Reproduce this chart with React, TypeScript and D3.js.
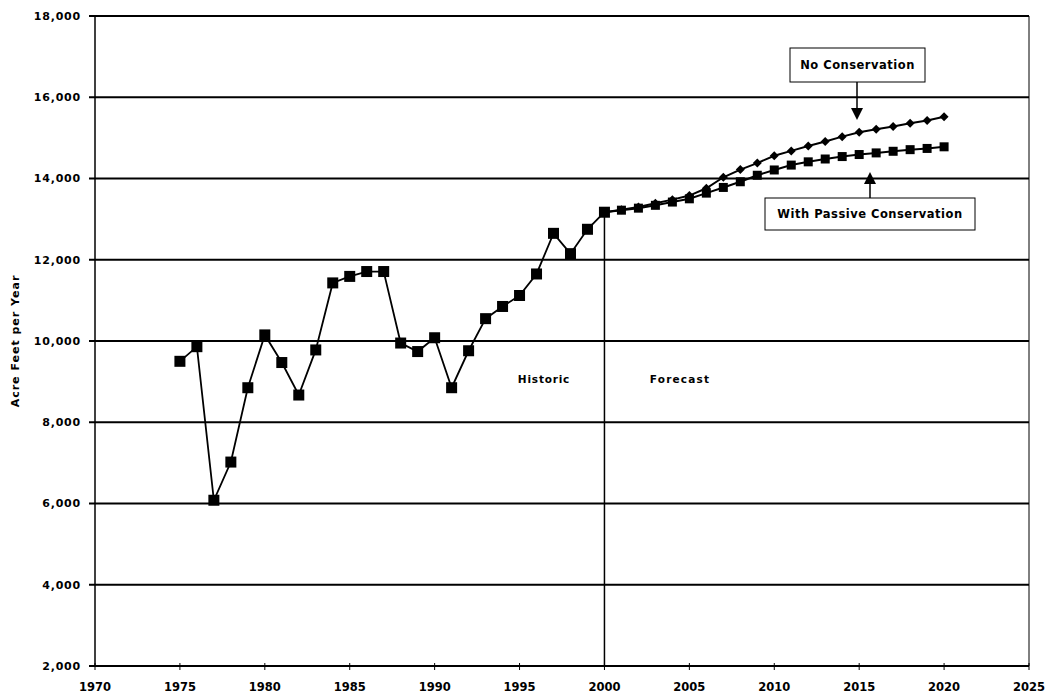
import React from 'react';
import * as d3 from 'd3';

// historic demand, 1975-2000
const historicYears = d3.range(1975, 2001);
const historicValues = [
  9500, 9860, 6080, 7020, 8850, 10150, 9470, 8670, 9780, 11430, 11590, 11710, 11710,
  9950, 9740, 10080, 8850, 9760, 10550, 10850, 11120, 11650, 12650, 12150, 12750, 13170,
];

// forecast, 2000-2020
const forecastYears = d3.range(2000, 2021);
const noConservation = [
  13170, 13230, 13300, 13390, 13480, 13580, 13760, 14030, 14220, 14380, 14560,
  14680, 14800, 14910, 15030, 15140, 15210, 15280, 15360, 15430, 15520,
];
const passiveConservation = [
  13170, 13220, 13270, 13340, 13420, 13500, 13640, 13780, 13920, 14080, 14210,
  14330, 14410, 14480, 14540, 14590, 14630, 14670, 14710, 14740, 14780,
];

const yTicks = d3.range(2000, 18001, 2000);
const xTicks = d3.range(1970, 2026, 5);

const W = 1054;
const H = 696;
const FONT = '"DejaVu Sans", Arial, sans-serif';

const App = () => {
  const x = d3.scaleLinear().domain([1970, 2025]).range([95, 1029]);
  const y = d3.scaleLinear().domain([2000, 18000]).range([666, 16]);

  const line = d3
    .line<[number, number]>()
    .x((d) => x(d[0]))
    .y((d) => y(d[1]));

  const hist: [number, number][] = historicYears.map((yr, i) => [yr, historicValues[i]]);
  const noCons: [number, number][] = forecastYears.map((yr, i) => [yr, noConservation[i]]);
  const passive: [number, number][] = forecastYears.map((yr, i) => [yr, passiveConservation[i]]);

  const diamond = (cx: number, cy: number, r: number) =>
    `M${cx},${cy - r}L${cx + r},${cy}L${cx},${cy + r}L${cx - r},${cy}Z`;

  const x0 = x(1970);
  const x1 = x(2025);

  return (
    <div style={{ position: 'absolute', left: 0, top: 0 }}>
      <svg width={W} height={H} style={{ display: 'block', background: '#fff' }}>
        {/* gridlines */}
        {yTicks.map((t) => (
          <line key={t} x1={x0 - 6} x2={x1} y1={y(t)} y2={y(t)} stroke="#000" strokeWidth={1.8} />
        ))}
        {/* axes frame */}
        <line x1={x0} x2={x0} y1={y(18000)} y2={y(2000)} stroke="#000" strokeWidth={1.5} />
        <line x1={x1} x2={x1} y1={y(18000)} y2={y(2000)} stroke="#000" strokeWidth={1} />
        {xTicks.map((t) => (
          <line key={t} x1={x(t)} x2={x(t)} y1={y(2000) - 3} y2={y(2000) + 4} stroke="#000" strokeWidth={1} />
        ))}

        {/* y tick labels */}
        {yTicks.map((t) => (
          <text
            key={t}
            x={81}
            y={y(t)}
            dy="0.36em"
            textAnchor="end"
            fontFamily={FONT}
            fontWeight="bold"
            fontSize={11}
            letterSpacing={0.8}
          >
            {d3.format(',')(t)}
          </text>
        ))}
        {/* x tick labels */}
        {xTicks.map((t) => (
          <text
            key={t}
            x={x(t)}
            y={691}
            textAnchor="middle"
            fontFamily={FONT}
            fontWeight="bold"
            fontSize={11.5}
          >
            {t}
          </text>
        ))}

        <text
          transform={`translate(19,${(y(18000) + y(2000)) / 2}) rotate(-90)`}
          textAnchor="middle"
          fontFamily={FONT}
          fontWeight="bold"
          fontSize={11}
          letterSpacing={1}
        >
          Acre Feet per Year
        </text>

        {/* historic / forecast divider */}
        <line
          x1={x(2000)}
          x2={x(2000)}
          y1={y(historicValues[historicValues.length - 1])}
          y2={y(2000)}
          stroke="#000"
          strokeWidth={1.5}
        />
        <text x={544} y={383} textAnchor="middle" fontFamily={FONT} fontWeight="bold" fontSize={10.5} letterSpacing={0.8}>
          Historic
        </text>
        <text x={680} y={383} textAnchor="middle" fontFamily={FONT} fontWeight="bold" fontSize={10.5} letterSpacing={1.2}>
          Forecast
        </text>

        {/* series */}
        <path d={line(noCons) ?? ''} fill="none" stroke="#000" strokeWidth={2} />
        <path d={line(passive) ?? ''} fill="none" stroke="#000" strokeWidth={2} />
        <path d={line(hist) ?? ''} fill="none" stroke="#000" strokeWidth={1.8} />

        {noCons.map((d) => (
          <path key={'d' + d[0]} d={diamond(x(d[0]), y(d[1]), 4.5)} fill="#000" />
        ))}
        {passive.map((d) => (
          <rect key={'p' + d[0]} x={x(d[0]) - 4.5} y={y(d[1]) - 4.5} width={9} height={9} fill="#000" />
        ))}
        {hist.map((d) => (
          <rect key={'h' + d[0]} x={x(d[0]) - 5.5} y={y(d[1]) - 5.5} width={11} height={11} fill="#000" />
        ))}

        {/* annotation: No Conservation */}
        <rect x={790} y={48} width={135} height={34} fill="#fff" stroke="#000" strokeWidth={1} />
        <text x={857.5} y={69} textAnchor="middle" fontFamily={FONT} fontWeight="bold" fontSize={11.5} letterSpacing={0.5}>
          No Conservation
        </text>
        <line x1={857} x2={857} y1={82} y2={110} stroke="#000" strokeWidth={1.5} />
        <path d="M851,108L863,108L857,120Z" fill="#000" />

        {/* annotation: With Passive Conservation */}
        <rect x={765} y={198} width={210} height={32} fill="#fff" stroke="#000" strokeWidth={1} />
        <text x={870} y={218} textAnchor="middle" fontFamily={FONT} fontWeight="bold" fontSize={11.5} letterSpacing={0.5}>
          With Passive Conservation
        </text>
        <line x1={870} x2={870} y1={198} y2={182} stroke="#000" strokeWidth={1.5} />
        <path d="M864,184L876,184L870,172Z" fill="#000" />
      </svg>
    </div>
  );
};

export default App;
